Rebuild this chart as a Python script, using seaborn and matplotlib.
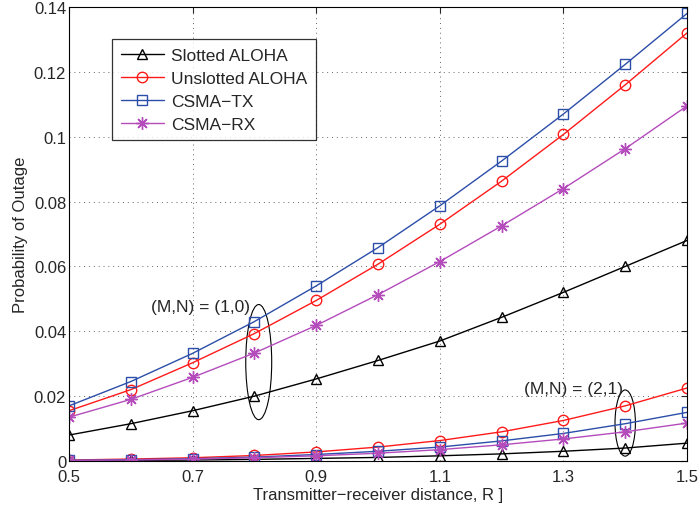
import numpy as np
import pandas as pd
import seaborn as sns
import matplotlib
matplotlib.use("Agg")
import matplotlib.pyplot as plt
from matplotlib.patches import Ellipse

R = [0.5, 0.6, 0.7, 0.8, 0.9, 1.0, 1.1, 1.2, 1.3, 1.4, 1.5]

# (M,N) = (1,0)
slotted_10 = [0.008, 0.0115, 0.0155, 0.020, 0.0253, 0.031, 0.037, 0.0443, 0.052, 0.060, 0.068]
unslotted_10 = [0.0155, 0.022, 0.0303, 0.0393, 0.0495, 0.0607, 0.073, 0.0863, 0.1007, 0.116, 0.132]
csmatx_10 = [0.017, 0.0245, 0.0332, 0.043, 0.054, 0.0658, 0.0787, 0.0925, 0.107, 0.1223, 0.138]
csmarx_10 = [0.0135, 0.019, 0.0258, 0.0333, 0.0418, 0.0513, 0.0615, 0.0725, 0.084, 0.0963, 0.1095]

# (M,N) = (2,1)
slotted_21 = [0.0001, 0.0002, 0.0003, 0.0005, 0.0008, 0.0011, 0.0016, 0.0022, 0.003, 0.004, 0.0055]
unslotted_21 = [0.0003, 0.0006, 0.001, 0.0017, 0.0028, 0.0043, 0.0063, 0.009, 0.0125, 0.017, 0.0225]
csmatx_21 = [0.0002, 0.0004, 0.0007, 0.0012, 0.002, 0.003, 0.0043, 0.0062, 0.0085, 0.0115, 0.015]
csmarx_21 = [0.0002, 0.0003, 0.0006, 0.001, 0.0016, 0.0024, 0.0035, 0.005, 0.0068, 0.009, 0.0117]

names = ["Slotted ALOHA", "Unslotted ALOHA", "CSMA\u2212TX", "CSMA\u2212RX"]
colors = ["#000000", "#ff1a1a", "#2c4ea8", "#b44cbc"]
markers = ["^", "o", "s", (8, 2, 0)]
msizes = [7.5, 7.5, 6.5, 9]

xticks = [0.5, 0.7, 0.9, 1.1, 1.3, 1.5]
yticks = [0, 0.02, 0.04, 0.06, 0.08, 0.1, 0.12, 0.14]
yticklabels = ["0", "0.02", "0.04", "0.06", "0.08", "0.1", "0.12", "0.14"]

sns.set_style("white")
plt.rcParams['font.family'] = ['Liberation Sans', 'DejaVu Sans']

fig = plt.figure(figsize=(6.98, 5.06), dpi=100)
ax = fig.add_axes([69/698, 1 - 462/506, (687-69)/698, (462-8)/506])

sets10 = [slotted_10, unslotted_10, csmatx_10, csmarx_10]
sets21 = [slotted_21, unslotted_21, csmatx_21, csmarx_21]
for i in range(4):
    kw = dict(color=colors[i], marker=markers[i], markersize=msizes[i],
              markerfacecolor='none', markeredgecolor=colors[i], markeredgewidth=1.0,
              linewidth=1.0, ax=ax)
    sns.lineplot(x=R, y=sets10[i], label=names[i], **kw)
    sns.lineplot(x=R, y=sets21[i], label=None, **kw)

ax.set_xlim(0.5, 1.5)
ax.set_ylim(0, 0.14)
ax.set_xticks(xticks)
ax.set_xticklabels([f"{t:g}" for t in xticks])
ax.set_yticks(yticks)
ax.set_yticklabels(yticklabels)
ax.tick_params(direction='in', length=4, labelsize=12, top=True, right=True, width=0.8)
ax.tick_params(axis='x', pad=6)
ax.tick_params(axis='y', pad=2)
ax.grid(True, linestyle=(0, (1, 4)), color='#666666', linewidth=0.7)
for s in ax.spines.values():
    s.set_visible(True)
    s.set_color('black')
    s.set_linewidth(0.8)

ax.set_xlabel("Transmitter\u2212receiver distance, R ]", fontsize=12, labelpad=2)
ax.set_ylabel("Probability of Outage", fontsize=12, labelpad=4)

leg = ax.legend(loc='upper left', bbox_to_anchor=(0.0696, 0.9295), fontsize=12.5,
                frameon=True, fancybox=False, edgecolor='black', handlelength=2.5,
                handletextpad=0.4, borderpad=0.5, labelspacing=0.45, borderaxespad=0)
leg.get_frame().set_linewidth(0.9)

ax.add_patch(Ellipse((0.807, 0.0305), width=0.042, height=0.0355,
                     fill=False, edgecolor='black', linewidth=0.8))
ax.text(0.633, 0.0475, "(M,N) = (1,0)", fontsize=12.5, va='center')
ax.add_patch(Ellipse((1.4, 0.0117), width=0.033, height=0.0204,
                     fill=False, edgecolor='black', linewidth=0.8))
ax.text(1.237, 0.0223, "(M,N) = (2,1)", fontsize=12.5, va='center')

fig.savefig("out.png", dpi=100)
